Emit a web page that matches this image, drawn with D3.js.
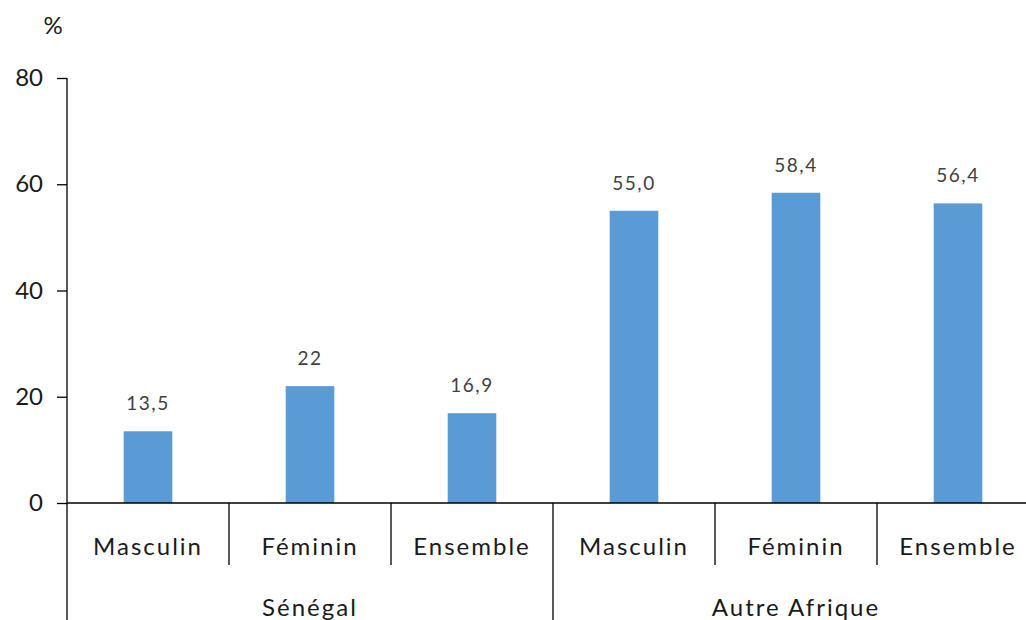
<!DOCTYPE html>
<html>
<head>
<meta charset="utf-8">
<script src="https://cdn.jsdelivr.net/npm/d3@7"></script>
<style>
  body { margin: 0; background: #fff; }
  svg text { font-family: Lato, "Open Sans", sans-serif; }
</style>
</head>
<body>
<svg id="chart" width="1026" height="620"></svg>
<script>
// data
var groups = ["Sénégal", "Autre Afrique"];
var categories = ["Masculin", "Féminin", "Ensemble", "Masculin", "Féminin", "Ensemble"];
var values = [13.5, 22, 16.9, 55.0, 58.4, 56.4];
var valueLabels = ["13,5", "22", "16,9", "55,0", "58,4", "56,4"];
var yTicks = [0, 20, 40, 60, 80];

var svg = d3.select("#chart");

var margin = { top: 78, left: 67, bottom: 117 };
var height = 620;
var plotRight = 67 + 162 * 6;

var keys = d3.range(values.length);

var x = d3.scaleBand().domain(keys).range([margin.left, plotRight]).paddingInner(0.7).paddingOuter(0.35);
var step = (plotRight - margin.left) / values.length;
var y = d3.scaleLinear().domain([0, 80]).range([height - margin.bottom, margin.top]);

var baseY = y(0);

// bars
svg.append("g").selectAll("rect")
    .data(values)
    .enter().append("rect")
    .attr("x", function (d, i) { return x(i); })
    .attr("y", function (d) { return y(d); })
    .attr("width", x.bandwidth())
    .attr("height", function (d) { return baseY - y(d); })
    .attr("fill", "#5B9BD5");

// value labels
svg.append("g").selectAll("text")
    .data(values)
    .enter().append("text")
    .attr("x", function (d, i) { return x(i) + x.bandwidth() / 2; })
    .attr("y", function (d) { return y(d) - 21; })
    .attr("text-anchor", "middle")
    .style("font-size", "19px")
    .style("letter-spacing", "1.5px")
    .style("fill", "#404040")
    .text(function (d, i) { return valueLabels[i]; });

// y axis
var yAxis = d3.axisLeft(y).tickValues(yTicks).tickSize(10).tickPadding(14);
var ya = svg.append("g")
    .attr("transform", "translate(" + margin.left + ",0)")
    .call(yAxis);
ya.select(".domain").remove();
ya.selectAll("line").attr("stroke", "#000").attr("stroke-width", 1.3);
ya.selectAll("text").style("font-size", "24px").style("fill", "#1a1a1a")
    .style("font-family", "Lato, 'Open Sans', sans-serif");

// y axis line running down to the bottom of the picture
svg.append("line")
    .attr("x1", margin.left).attr("x2", margin.left)
    .attr("y1", y(80)).attr("y2", height)
    .attr("stroke", "#000").attr("stroke-width", 1.3);

// baseline
svg.append("line")
    .attr("x1", margin.left).attr("x2", plotRight)
    .attr("y1", baseY).attr("y2", baseY)
    .attr("stroke", "#000").attr("stroke-width", 1.3);

// category separators
svg.append("g").selectAll("line")
    .data(d3.range(1, values.length))
    .enter().append("line")
    .attr("x1", function (i) { return margin.left + step * i; })
    .attr("x2", function (i) { return margin.left + step * i; })
    .attr("y1", baseY)
    .attr("y2", function (i) { return i % 3 === 0 ? height : baseY + 62; })
    .attr("stroke", "#000").attr("stroke-width", 1.3);

// category labels
svg.append("g").selectAll("text")
    .data(categories)
    .enter().append("text")
    .attr("x", function (d, i) { return x(i) + x.bandwidth() / 2; })
    .attr("y", baseY + 52)
    .attr("text-anchor", "middle")
    .style("font-size", "24px")
    .style("letter-spacing", "2px")
    .style("fill", "#1a1a1a")
    .text(function (d) { return d; });

// group labels
svg.append("g").selectAll("text")
    .data(groups)
    .enter().append("text")
    .attr("x", function (d, i) { return margin.left + step * (i * 3 + 1.5); })
    .attr("y", baseY + 113)
    .attr("text-anchor", "middle")
    .style("font-size", "24px")
    .style("letter-spacing", "2px")
    .style("fill", "#1a1a1a")
    .text(function (d) { return d; });

// unit label
svg.append("text")
    .attr("x", 53)
    .attr("y", 34)
    .attr("text-anchor", "middle")
    .style("font-size", "24px")
    .style("fill", "#1a1a1a")
    .text("%");
</script>
</body>
</html>
